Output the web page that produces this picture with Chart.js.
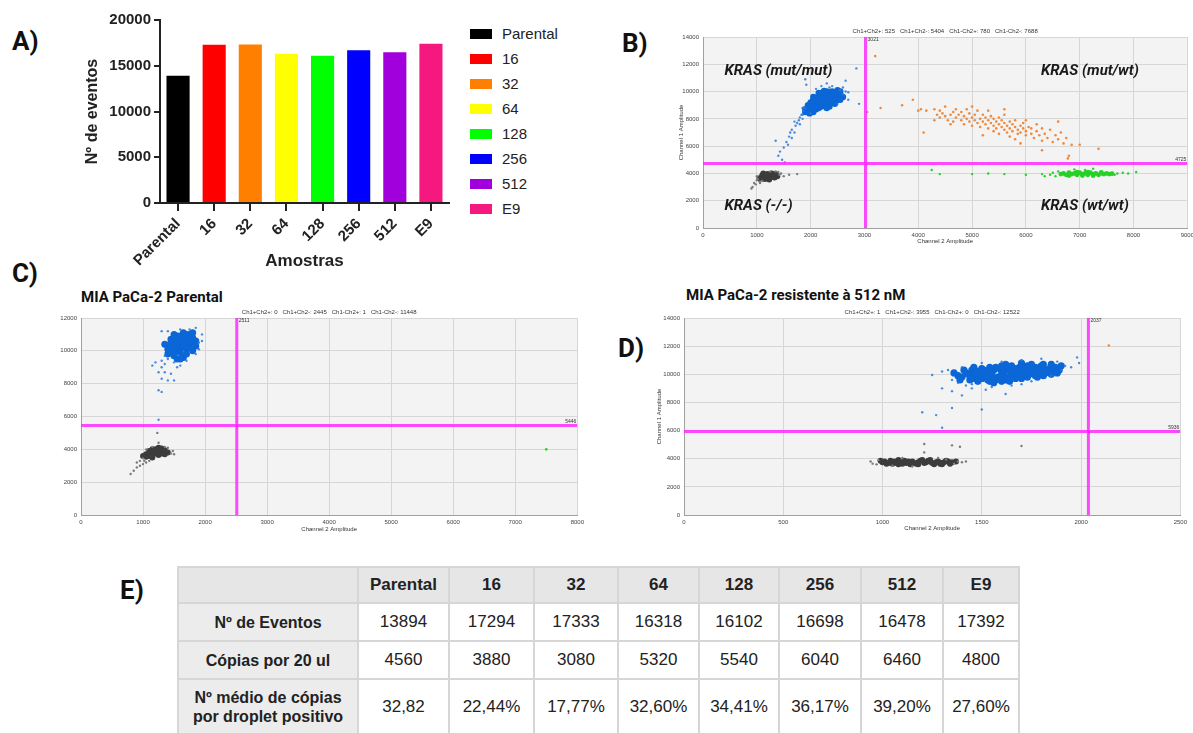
<!DOCTYPE html>
<html lang="pt">
<head>
<meta charset="UTF-8" />
<title>Amostras - ddPCR KRAS</title>
<script src="https://cdn.jsdelivr.net/npm/chart.js"></script>
<style>
  body { margin: 0; width: 1193px; height: 733px; overflow: hidden; background: #fff; position: relative;
         font-family: Arial, "Liberation Sans", sans-serif; color: #222; }
  canvas { position: absolute; }
  .tag { position: absolute; font: 700 26px Roboto, Arial, sans-serif; color: #111; line-height: 30px; }
  .ptitle { position: absolute; font: 700 15px Roboto, Arial, sans-serif; color: #111; line-height: 18px; }
  #legendA { position: absolute; left: 470px; top: 21px; }
  #legendA div { height: 25px; display: flex; align-items: center; font-size: 15px; color: #222; }
  #legendA span { display: inline-block; width: 22px; height: 10px; margin-right: 10px; }
  table { position: absolute; left: 177px; top: 566px; border-collapse: collapse; font-size: 17px;
          table-layout: fixed; }
  td, th { border: 2px solid #d6d6d6; text-align: center; padding: 0; }
  th { background: #e6e6e6; font-weight: 700; height: 34px; }
  td { background: #fff; height: 36px; }
  td.rh { background: #ececec; font-weight: 700; font-size: 16px; line-height: 19px; }
</style>
</head>
<body>
  <div class="tag" style="left:12px;top:26px">A)</div>
  <div class="tag" style="left:622px;top:28px">B)</div>
  <div class="tag" style="left:12px;top:258px">C)</div>
  <div class="tag" style="left:618px;top:333px">D)</div>
  <div class="tag" style="left:120px;top:575px">E)</div>
  <div class="ptitle" style="left:81px;top:288px">MIA PaCa-2 Parental</div>
  <div class="ptitle" style="left:686px;top:286px">MIA PaCa-2 resistente à 512 nM</div>

  <canvas id="barA" width="385" height="272" style="left:80px;top:0px"></canvas>
  <div id="legendA"></div>
  <canvas id="plotB" width="523" height="225" style="left:675px;top:20px"></canvas>
  <canvas id="plotC" width="530" height="233" style="left:58px;top:300px"></canvas>
  <canvas id="plotD" width="538" height="232" style="left:653px;top:300px"></canvas>

  <table id="tableE"></table>

<script>
// ---- Panel A / E data
const samples = ['Parental', '16', '32', '64', '128', '256', '512', 'E9'];
const eventos = [13894, 17294, 17333, 16318, 16102, 16698, 16478, 17392];
const copias20ul = [4560, 3880, 3080, 5320, 5540, 6040, 6460, 4800];
const mediaCopias = ['32,82', '22,44%', '17,77%', '32,60%', '34,41%', '36,17%', '39,20%', '27,60%'];
const sampleColors = ['#000000', '#ff0000', '#ff8000', '#ffff00', '#00ff00', '#0000ff', '#a100dc', '#f5187f'];

// ---- Panel B droplets [Ch2 amplitude, Ch1 amplitude]
const bBlueCore = [[1950,8700],[2000,8900],[2050,9100],[2100,9300],[2150,9500],[2200,9700],[2250,9800],[2300,9900],[2350,9950],[2400,9800],[2450,9700],[2500,9600],[2000,8600],[2100,8700],[2200,8900],[2300,9100],[2400,9300],[2500,9400],[2550,9700],[2100,9000],[2200,9200],[2300,9400],[2400,9600],[2150,9100],[2250,9300],[2350,9500],[2050,8800],[2150,8800],[2250,9000],[2350,9200],[2450,9400],[2000,9200],[2100,9500],[2200,9500],[2300,9700],[2400,10000],[2250,10050],[1950,9000],[2450,9100],[2350,8900],[1900,8500],[2050,9400],[2150,9700],[2500,9900],[2300,8800],
  [1900,8700],[1950,8500],[1950,8800],[2000,9000],[2050,9600],[2100,8900],[2150,9300],[2200,9100],[2250,9500],[2300,9300],[2350,9700],[2400,9200],[2450,9900],[2500,10100],[2550,10000],[2600,9600],[2550,9400],[2200,9900],[2300,10000],[2150,9900],[2050,8500],[1980,8400]];
const bBlueEdge = [[1350,6400],[1400,5300],[1430,5600],[1470,5000],[1500,5900],[1520,4800],[1550,6300],[1600,6700],[1620,7000],[1650,7200],[1700,7000],[1720,7500],[1750,7700],[1780,7900],[1800,8100],[1830,8300],[1850,8000],[1700,7800],[1650,6600],[1580,6100],[1870,8600],[1900,8800],[1850,8800],[1800,7600],[2600,9800],[2650,10000],[2700,9950],[2550,10100],[2600,10300],[2350,10300],[2200,10400],[2100,10200],[2400,10400],[2300,10600],[2650,10800],[2850,11700],[2900,9100],[1900,10900],[1920,10500],[2700,9400],[2000,8400],[2500,9100],[1850,8300]];
const bGrayCore = [[1100,3700],[1150,3750],[1200,3800],[1250,3850],[1300,3900],[1350,3850],[1150,3900],[1250,3700],[1300,3750],[1100,3850],[1200,3950],[1350,3950],[1050,3650],[1200,3650],[1280,4000],[1150,3600],[1380,3800],[1120,4000],[1230,3550],[1330,3700]];
const bGrayEdge = [[1000,3500],[950,3300],[920,3000],[900,2900],[980,3200],[1050,3400],[1020,3600],[1420,3900],[1450,4000],[1400,4100],[1250,4150],[1100,3450],[1500,3800],[1600,3900],[1750,3950],[1000,3800],[1350,4150],[1060,3300]];
const bOrange = [[3050,8500],[3300,8800],[3200,12600],[3700,9000],[3900,9400],[4000,8600],[4050,8700],[4100,7000],[4150,8600],[4300,8700],[4350,8300],[4400,8100],[4400,8600],[4450,8400],[4500,8200],[4500,8900],[4550,7900],[4600,8300],[4650,8500],[4650,7800],[4700,8700],[4700,8100],[4750,8300],[4800,7900],[4800,8500],[4850,8200],[4850,7600],[4900,8000],[4900,8700],[4950,8400],[4950,7800],[5000,8100],[5000,7500],[5000,8900],[5050,7900],[5050,8300],[5100,7700],[5100,8600],[5150,8000],[5150,7400],[5200,7800],[5200,8300],[5250,7600],[5250,8100],[5300,7300],[5300,7900],[5300,8600],[5350,7700],[5350,8200],[5400,7500],[5400,8000],[5400,7100],[5450,7800],[5450,7300],[5500,7600],[5500,8100],[5500,6900],[5550,7400],[5550,7900],[5600,7200],[5600,7700],[5600,8300],[5650,7500],[5650,7000],[5700,7300],[5700,7800],[5700,6700],[5750,7600],[5750,7100],[5800,7400],[5800,7900],[5800,6500],[5850,7200],[5850,6900],[5900,7500],[5900,7000],[5950,7300],[5950,7700],[6000,7100],[6000,6800],[6000,7900],[6050,7400],[6100,6900],[6100,7300],[6150,6600],[6200,7100],[6250,6800],[6300,7300],[6300,6400],[6350,6900],[6400,6600],[6450,7200],[6500,6300],[6550,6800],[6600,6500],[6650,7000],[6700,6200],[6750,6600],[6850,6100],[6800,5300],[6780,5100],[7000,6100],[7350,5800],[6300,5700],[6600,7800],[5900,6200],[5200,6800],[4600,7600],[4300,7900],[5600,8700],[6200,7600]];
const bGreenCore = [[6650,3950],[6700,4000],[6750,3900],[6800,4050],[6850,3950],[6900,4000],[6950,3900],[7000,4050],[7050,3950],[7100,4000],[7150,3900],[7200,4050],[7250,3950],[7300,4000],[7350,3900],[7400,4000],[7450,3950],[7500,4000],[7550,3950],[7600,3980],[6950,4100],[7150,4100],[7050,3850],[7250,3850],[6800,3850],[7400,4080]];
const bGreenEdge = [[4250,4250],[4400,3950],[5000,3950],[5300,4000],[5600,3950],[6000,3900],[6300,3950],[6450,3900],[6500,4050],[6550,3800],[7700,4000],[7800,4050],[7900,4000],[8050,4100],[7100,4250],[6900,4300],[7250,4350],[6600,4150],[6350,3800],[7650,3900]];
const bThresholds = [3021, 4725];
const bCounts = 'Ch1+Ch2+: 525   Ch1+Ch2-: 5404   Ch1-Ch2+: 780   Ch1-Ch2-: 7688';
const bQuadrants = [['KRAS (mut/mut)', 400, 11500], ['KRAS (mut/wt)', 6280, 11500], ['KRAS (-/-)', 400, 1600], ['KRAS (wt/wt)', 6280, 1600]];

// ---- Panel C droplets
const cBlueCore = [[1400,9800],[1450,10000],[1500,10200],[1550,10400],[1600,10600],[1650,10800],[1700,11000],[1750,10700],[1800,10500],[1850,10300],[1500,9700],[1600,9900],[1700,10100],[1800,10000],[1400,10300],[1500,10600],[1600,10200],[1700,10400],[1650,9600],[1550,9500],[1450,10500],[1750,10200],[1550,10900],[1650,11100],[1800,10800],[1850,10600],[1400,10100],[1700,9800],[1600,9500],[1500,11000],[1450,9900],[1750,11000],[1650,10500],[1550,10000],[1350,10400],[1600,10900],[1800,11100],[1700,10700],
  [1450,10700],[1500,10800],[1700,10600],[1750,10500],[1650,10300],[1550,10600],[1500,9900],[1600,10700],[1450,10200],[1800,10200]];
const cBlueEdge = [[1150,9100],[1200,9300],[1250,8700],[1300,8300],[1350,8700],[1400,8200],[1450,8600],[1500,8200],[1550,9000],[1300,9000],[1250,7600],[1300,7500],[1250,5800],[1950,10600],[1900,10500],[1850,11400],[1750,11300],[1600,11300],[1400,11200],[1300,11200],[1900,10100],[1850,9800],[1400,9500],[1350,9700],[1500,9300],[1700,9400],[1950,11000],[1600,9100],[1350,9200],[1300,9400]];
const cGrayCore = [[1050,3700],[1100,3800],[1150,3850],[1200,3900],[1250,3950],[1300,3900],[1350,3850],[1100,3600],[1150,3700],[1200,3750],[1250,3800],[1300,3750],[1350,3700],[1200,4000],[1150,4000],[1300,4050],[1050,3550],[1250,3650],[1400,3800],[1000,3600],[1150,3500],[1350,3950],[1100,3900],[1250,4100]];
const cGrayEdge = [[800,2500],[850,2700],[900,2900],[950,3000],[1000,3100],[950,3300],[1020,3300],[1050,3200],[900,3200],[1100,3300],[1000,3450],[1450,3750],[1480,3900],[1400,4100],[1350,4150],[1250,4400],[1230,5000],[1150,4150],[1050,4000],[1500,3700]];
const cGreen = [[7500,4000]];
const cThresholds = [2511, 5446];
const cCounts = 'Ch1+Ch2+: 0   Ch1+Ch2-: 2445   Ch1-Ch2+: 1   Ch1-Ch2-: 11448';

// ---- Panel D droplets
const dBlueCore = [[1400,9800],[1420,10100],[1440,9600],[1460,9900],[1480,10200],[1500,9700],[1520,10000],[1540,9500],[1560,10300],[1580,9800],[1600,10100],[1620,9600],[1640,10400],[1660,9900],[1680,10200],[1700,9700],[1720,10500],[1740,10000],[1760,10300],[1780,9800],[1800,10600],[1820,10100],[1840,10400],[1860,10200],[1450,10300],[1500,10400],[1550,9800],[1600,9500],[1650,10600],[1700,10100],[1750,10700],[1800,10300],[1430,10000],[1470,9700],[1530,10200],[1570,9600],[1610,9900],[1630,10300],[1670,9700],[1690,10500],[1730,9800],[1770,10500],[1810,9900],[1850,10700],[1380,9900],[1360,10100],[1480,9500],[1620,10700],[1720,10300],[1540,10500],[1590,10400],[1660,10100],[1780,10100],
  [1390,9600],[1410,10300],[1450,9700],[1470,10100],[1490,9900],[1510,10300],[1530,9600],[1550,10100],[1570,10500],[1590,9700],[1610,10300],[1630,9800],[1650,10000],[1670,10400],[1690,9900],[1710,10000],[1730,10600],[1750,10200],[1770,9900],[1790,10400],[1810,10700],[1830,10300],[1850,10000],[1870,10500],[1890,10300],[1900,10600],[1560,9400],[1640,9500],[1700,10800],[1600,10600],[1460,10500],[1880,10100]];
const dBlueEdge = [[1250,9950],[1300,9000],[1330,10300],[1350,8800],[1380,9400],[1400,8500],[1420,9200],[1450,9000],[1200,7300],[1270,7100],[1300,6200],[1350,7600],[1500,7500],[1980,11200],[1990,10800],[1900,10300],[1920,10600],[1880,10900],[1700,11000],[1600,10900],[1500,10800],[1950,10500],[1550,9100],[1650,9200],[1750,9500],[1850,9900],[1400,10500],[1300,10200],[1350,9600],[1450,9300],[1520,8900],[1620,8600],[1800,11100],[1700,9300]];
const dGrayCore = [[1000,3750],[1030,3700],[1060,3800],[1090,3750],[1120,3700],[1150,3800],[1180,3750],[1210,3700],[1240,3800],[1270,3750],[1300,3700],[1330,3800],[1050,3650],[1110,3850],[1170,3650],[1230,3850],[1290,3650],[1350,3750],[1080,3900],[1200,3900],[1140,3600],[1260,3600],
  [990,3850],[1020,3650],[1040,3850],[1070,3700],[1100,3650],[1130,3800],[1160,3700],[1190,3850],[1220,3750],[1250,3700],[1280,3800],[1310,3750],[1340,3650],[1370,3800],[1320,3850],[1080,3600],[1180,3600],[1240,3900],[1010,3800],[1300,3600]];
const dGrayEdge = [[950,3650],[940,3800],[970,3600],[980,3900],[1380,3800],[1400,3750],[1420,3800],[1360,3650],[1210,5050],[1350,4950],[1390,4850],[1700,4900],[1210,4450],[1100,4050],[1280,4050],[1150,3450],[1050,3500],[1320,3950]];
const dOrange = [[2140,12050]];
const dThresholds = [2037, 5936];
const dCounts = 'Ch1+Ch2+: 1   Ch1+Ch2-: 3955   Ch1-Ch2+: 0   Ch1-Ch2-: 12522';

Chart.defaults.font.family = 'Arial, "Liberation Sans", sans-serif';
Chart.defaults.color = '#222';

// ---- A) bar chart
new Chart(document.getElementById('barA'), {
  type: 'bar',
  data: {
    labels: samples,
    datasets: [{ data: eventos, backgroundColor: sampleColors, barPercentage: 0.64, categoryPercentage: 1 }]
  },
  options: {
    responsive: false,
    animation: false,
    layout: { padding: { top: 20, right: 16, left: 0, bottom: 0 } },
    plugins: { legend: { display: false }, tooltip: { enabled: false } },
    scales: {
      x: {
        grid: { drawOnChartArea: false, offset: false, tickLength: 8, color: '#222', lineWidth: 2 },
        border: { color: '#222', width: 2 },
        ticks: { font: { size: 15, weight: 'bold' }, color: '#222', minRotation: 45, maxRotation: 45, autoSkip: false, padding: 4 },
        title: { display: true, text: 'Amostras', font: { size: 17, weight: 'bold' }, color: '#222', padding: 0 },
        afterFit: s => { s.height = 69; }
      },
      y: {
        min: 0, max: 20000,
        grid: { drawOnChartArea: false, tickLength: 6, color: '#222', lineWidth: 2 },
        border: { color: '#222', width: 2 },
        ticks: { stepSize: 5000, font: { size: 15, weight: 'bold' }, color: '#222', padding: 3, callback: v => String(v) },
        title: { display: true, text: 'Nº de eventos', font: { size: 16, weight: 'bold' }, color: '#222', padding: { top: 3, bottom: 0 } },
        afterFit: s => { s.width = 80; }
      }
    }
  }
});

const legendA = document.getElementById('legendA');
samples.forEach((s, i) => {
  legendA.innerHTML += `<div><span style="background:${sampleColors[i]}"></span>${s}</div>`;
});

// ---- B, C, D) ddPCR 2D plots
const MAGENTA = 'rgba(255, 40, 255, 0.85)';
const BLUE = '#0b66d6', BLUE_EDGE = 'rgba(40,120,225,0.85)';
const GRAY = '#3c3c3c', GRAY_EDGE = '#7a7a7a';
const ORANGE = '#f08a3c', GREEN = '#26d126';

function ddpcrPlot(id, o) {
  const pts = a => a.map(p => ({ x: p[0], y: p[1] }));
  const datasets = o.sets.map(s => ({
    data: pts(s.data), backgroundColor: s.color, borderWidth: 0, pointRadius: s.r, order: 2
  }));
  datasets.push({ data: [{ x: o.thr[0], y: 0 }, { x: o.thr[0], y: o.ymax }], showLine: true, borderColor: MAGENTA, borderWidth: 3, pointRadius: 0, order: 1 });
  datasets.push({ data: [{ x: 0, y: o.thr[1] }, { x: o.xmax, y: o.thr[1] }], showLine: true, borderColor: MAGENTA, borderWidth: 3, pointRadius: 0, order: 1 });

  new Chart(document.getElementById(id), {
    type: 'scatter',
    data: { datasets },
    options: {
      responsive: false,
      animation: false,
      layout: { padding: { top: o.padTop, right: 8, left: 0, bottom: 0 } },
      plugins: { legend: { display: false }, tooltip: { enabled: false } },
      scales: {
        x: {
          type: 'linear', min: 0, max: o.xmax,
          grid: { color: '#d6d6d6', drawTicks: false },
          border: { color: '#a0a0a0' },
          ticks: { stepSize: o.xstep, font: { size: 6 }, color: '#444', padding: 4, maxRotation: 0, callback: v => String(v) },
          title: { display: true, text: 'Channel 2 Amplitude', font: { size: 6 }, color: '#333', padding: 0 },
          afterFit: s => { s.height = o.xh; }
        },
        y: {
          type: 'linear', min: 0, max: o.ymax,
          grid: { color: '#d6d6d6', drawTicks: false },
          border: { color: '#a0a0a0' },
          ticks: { stepSize: 2000, font: { size: 6 }, color: '#444', padding: 4, callback: v => String(v) },
          title: { display: o.yTitle, text: 'Channel 1 Amplitude', font: { size: 6 }, color: '#333', padding: { top: 3, bottom: 0 } },
          afterFit: s => { s.width = o.yw; }
        }
      }
    },
    plugins: [{
      id: 'ddpcrDecor',
      beforeDraw(chart) {
        const a = chart.chartArea, ctx = chart.ctx;
        ctx.save();
        ctx.fillStyle = '#f3f3f3';
        ctx.fillRect(a.left, a.top, a.right - a.left, a.bottom - a.top);
        ctx.restore();
      },
      afterDraw(chart) {
        const a = chart.chartArea, ctx = chart.ctx;
        const sx = chart.scales.x, sy = chart.scales.y;
        ctx.save();
        ctx.fillStyle = '#333';
        ctx.font = '6px Arial';
        ctx.textAlign = 'center';
        ctx.textBaseline = 'middle';
        ctx.fillText(o.counts, (a.left + a.right) / 2, a.top - 6);
        ctx.font = '5px Arial';
        ctx.textAlign = 'left';
        ctx.fillText(String(o.thr[0]), sx.getPixelForValue(o.thr[0]) + 2, a.top + 3);
        ctx.textAlign = 'right';
        ctx.fillText(String(o.thr[1]), a.right - 1, sy.getPixelForValue(o.thr[1]) - 4);
        if (o.quadrants) {
          ctx.font = 'italic 700 15px Roboto, Arial, sans-serif';
          ctx.fillStyle = '#1a1a1a';
          ctx.textAlign = 'left';
          o.quadrants.forEach(q => ctx.fillText(q[0], sx.getPixelForValue(q[1]), sy.getPixelForValue(q[2])));
        }
        ctx.restore();
      }
    }]
  });
}

ddpcrPlot('plotB', {
  xmax: 9000, ymax: 14000, xstep: 1000, thr: bThresholds, counts: bCounts, quadrants: bQuadrants,
  padTop: 17, yw: 28, xh: 17, yTitle: true,
  sets: [
    { data: bGrayEdge, color: GRAY_EDGE, r: 1.2 }, { data: bGrayCore, color: GRAY, r: 3 },
    { data: bBlueEdge, color: BLUE_EDGE, r: 1.2 }, { data: bBlueCore, color: BLUE, r: 3.2 },
    { data: bOrange, color: ORANGE, r: 1.3 },
    { data: bGreenEdge, color: GREEN, r: 1.2 }, { data: bGreenCore, color: GREEN, r: 2.4 }
  ]
});

ddpcrPlot('plotC', {
  xmax: 8000, ymax: 12000, xstep: 1000, thr: cThresholds, counts: cCounts,
  padTop: 18, yw: 23, xh: 18, yTitle: false,
  sets: [
    { data: cGrayEdge, color: GRAY_EDGE, r: 1.2 }, { data: cGrayCore, color: GRAY, r: 3 },
    { data: cBlueEdge, color: BLUE_EDGE, r: 1.2 }, { data: cBlueCore, color: BLUE, r: 3.5 },
    { data: cGreen, color: GREEN, r: 1.3 }
  ]
});

ddpcrPlot('plotD', {
  xmax: 2500, ymax: 14000, xstep: 500, thr: dThresholds, counts: dCounts,
  padTop: 18, yw: 31, xh: 17, yTitle: true,
  sets: [
    { data: dGrayEdge, color: GRAY_EDGE, r: 1.2 }, { data: dGrayCore, color: GRAY, r: 3 },
    { data: dBlueEdge, color: BLUE_EDGE, r: 1.2 }, { data: dBlueCore, color: BLUE, r: 3.6 },
    { data: dOrange, color: ORANGE, r: 1.3 }
  ]
});

// ---- E) table (column widths exclude the 2px borders)
const colWidths = [178, 89, 83, 82, 79, 78, 80, 80, 74];
let html = '<tr><th style="width:' + colWidths[0] + 'px"></th>' +
  samples.map((s, i) => `<th style="width:${colWidths[i + 1]}px">${s}</th>`).join('') + '</tr>';
const rows = [
  ['Nº de Eventos', eventos],
  ['Cópias por 20 ul', copias20ul],
  ['Nº médio de cópias<br>por droplet positivo', mediaCopias]
];
rows.forEach((r, k) => {
  const h = k === 2 ? ' style="height:53px"' : '';
  html += `<tr><td class="rh"${h}>${r[0]}</td>` + r[1].map(v => `<td${h}>${v}</td>`).join('') + '</tr>';
});
document.getElementById('tableE').innerHTML = html;
</script>
</body>
</html>
